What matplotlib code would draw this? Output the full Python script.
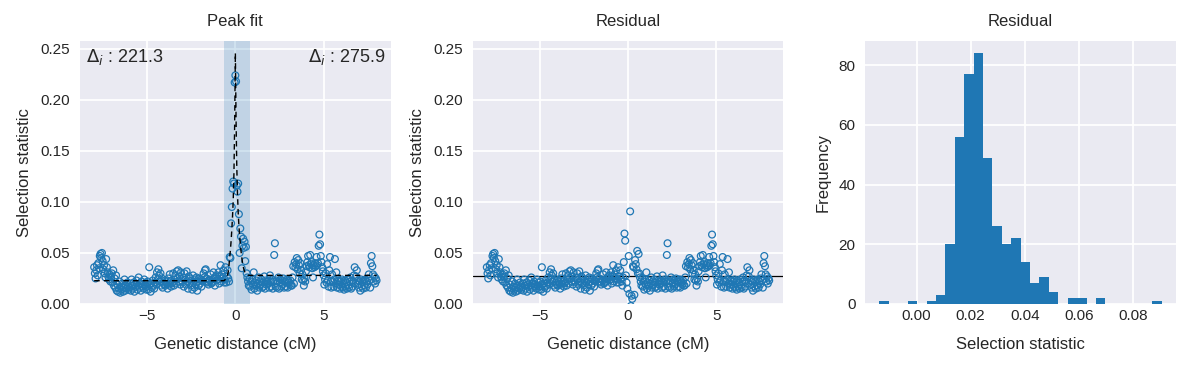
import numpy as np
import matplotlib.pyplot as plt

# genetic position of each window (cM), windows are 0.04 cM apart
pos_cm = np.linspace(-8, 8, 401)

# selection statistic, left flank (-8.00 .. -0.64 cM)
stat_left = [
    0.036, 0.030, 0.025, 0.033, 0.038, 0.028, 0.040, 0.035, 0.047, 0.049, 0.045, 0.050, 0.042,
    0.034, 0.038, 0.030, 0.026, 0.044, 0.036, 0.031, 0.027, 0.024, 0.029, 0.022, 0.026,
    0.030, 0.021, 0.033, 0.018, 0.025, 0.016, 0.028, 0.013, 0.019, 0.012, 0.015, 0.022, 0.011,
    0.017, 0.014, 0.020, 0.012, 0.016, 0.024, 0.013, 0.018, 0.015, 0.021, 0.017, 0.014,
    0.016, 0.020, 0.013, 0.024, 0.018, 0.015, 0.021, 0.012, 0.019, 0.017, 0.023, 0.014, 0.018,
    0.026, 0.016, 0.020, 0.013, 0.022, 0.017, 0.019, 0.015, 0.024, 0.018, 0.021, 0.014,
    0.017, 0.022, 0.014, 0.036, 0.019, 0.012, 0.020, 0.016, 0.023, 0.018, 0.015, 0.021, 0.026,
    0.019, 0.031, 0.024, 0.034, 0.028, 0.022, 0.030, 0.018, 0.025, 0.016, 0.021, 0.019,
    0.023, 0.018, 0.022, 0.020, 0.015, 0.025, 0.019, 0.029, 0.022, 0.017, 0.020, 0.021, 0.030,
    0.018, 0.024, 0.028, 0.020, 0.032, 0.025, 0.033, 0.022, 0.027, 0.019, 0.031, 0.023,
    0.021, 0.026, 0.017, 0.030, 0.024, 0.019, 0.032, 0.022, 0.015, 0.027, 0.020, 0.025, 0.018,
    0.023, 0.014, 0.028, 0.021, 0.016, 0.024, 0.019, 0.026, 0.013, 0.022, 0.018, 0.025,
    0.020, 0.024, 0.017, 0.023, 0.022, 0.030, 0.026, 0.033, 0.034, 0.025, 0.021, 0.022, 0.019,
    0.024, 0.023, 0.029, 0.020, 0.021, 0.022, 0.031, 0.025, 0.018, 0.027, 0.023, 0.028,
    0.024, 0.031, 0.020, 0.027, 0.038, 0.022, 0.029, 0.025, 0.033, 0.021,
]

# peak window (-0.60 .. 0.80 cM): statistic, fitted curve and residual
stat_peak = [
    0.024, 0.036, 0.021, 0.027, 0.033, 0.025, 0.022, 0.046, 0.045, 0.079, 0.095, 0.113,
    0.120, 0.118, 0.217, 0.224, 0.218, 0.116, 0.110, 0.118, 0.088, 0.050, 0.074, 0.066,
    0.035, 0.057, 0.064, 0.055, 0.061, 0.042, 0.056, 0.030, 0.026, 0.022, 0.018, 0.025,
]
fit_peak = [
    0.0235, 0.0240, 0.0248, 0.0260, 0.0280, 0.0320, 0.0380, 0.0450, 0.0530, 0.0620, 0.0730, 0.0860,
    0.1020, 0.1280, 0.1750, 0.2460, 0.1800, 0.1350, 0.1080, 0.0900, 0.0770, 0.0670, 0.0590, 0.0520,
    0.0460, 0.0410, 0.0370, 0.0340, 0.0320, 0.0305, 0.0295, 0.0288, 0.0284, 0.0282, 0.0281, 0.0280,
]
resid_peak = [
    0.024, 0.036, 0.021, 0.027, 0.033, 0.025, 0.022, 0.018, 0.026, 0.041, 0.069, 0.062,
    0.028, 0.021, 0.015, -0.0137, 0.047, 0.010, 0.0907, -0.002, 0.008, 0.005, 0.037, 0.036,
    0.009, 0.043, 0.039, 0.034, 0.052, 0.030, 0.049, 0.030, 0.026, 0.022, 0.018, 0.025,
]

# selection statistic, right flank (0.84 .. 8.00 cM)
stat_right = [
    0.017, 0.022, 0.014, 0.024, 0.019, 0.031, 0.015, 0.021, 0.018, 0.023, 0.013, 0.020, 0.026,
    0.016, 0.022, 0.019, 0.024, 0.016, 0.021, 0.017, 0.027, 0.015, 0.023, 0.019, 0.022,
    0.020, 0.023, 0.016, 0.028, 0.022, 0.017, 0.024, 0.015, 0.022, 0.048, 0.0595, 0.017, 0.023,
    0.016, 0.022, 0.026, 0.015, 0.021, 0.024, 0.017, 0.023, 0.019, 0.025, 0.016, 0.022,
    0.022, 0.017, 0.024, 0.016, 0.023, 0.021, 0.019, 0.023, 0.018, 0.018, 0.026, 0.037, 0.020,
    0.041, 0.036, 0.039, 0.045, 0.034, 0.043, 0.038, 0.030, 0.040, 0.033, 0.024, 0.029,
    0.023, 0.018, 0.025, 0.022, 0.032, 0.037, 0.041, 0.047, 0.038, 0.036, 0.048, 0.039, 0.041,
    0.035, 0.026, 0.038, 0.036, 0.040, 0.037, 0.046, 0.038, 0.040, 0.057, 0.068, 0.0585,
    0.047, 0.041, 0.036, 0.032, 0.028, 0.019, 0.024, 0.030, 0.021, 0.039, 0.023, 0.017, 0.033,
    0.046, 0.022, 0.016, 0.029, 0.022, 0.017, 0.024, 0.044, 0.020, 0.031, 0.016, 0.023,
    0.019, 0.023, 0.015, 0.022, 0.017, 0.024, 0.016, 0.022, 0.014, 0.023, 0.017, 0.021, 0.015,
    0.024, 0.018, 0.016, 0.022, 0.026, 0.015, 0.023, 0.017, 0.022, 0.028, 0.036, 0.020,
    0.027, 0.033, 0.019, 0.023, 0.016, 0.022, 0.013, 0.024, 0.017, 0.022, 0.015, 0.023, 0.018,
    0.024, 0.016, 0.022, 0.019, 0.025, 0.029, 0.023, 0.016, 0.040, 0.047, 0.037, 0.029,
    0.022, 0.027, 0.020, 0.025, 0.023,
]

fit_base_left = 0.0228
fit_base_right = 0.028
resid_base = 0.027
delta_left = 221.3
delta_right = 275.9
peak_span = (-0.62, 0.82)

stat = np.array(stat_left + stat_peak + stat_right)
in_peak = np.zeros(len(pos_cm), dtype=bool)
in_peak[len(stat_left):len(stat_left) + len(stat_peak)] = True

fit = np.where(pos_cm <= 0, fit_base_left, fit_base_right)
fit[in_peak] = fit_peak
resid = stat.copy()
resid[in_peak] = resid_peak

plt.style.use('seaborn-v0_8-darkgrid')
plt.rcParams['font.family'] = ['Liberation Sans', 'DejaVu Sans']
plt.rcParams['xtick.labelsize'] = 11
plt.rcParams['ytick.labelsize'] = 11
plt.rcParams['axes.labelsize'] = 12
plt.rcParams['axes.titlesize'] = 12
plt.rcParams['axes.titlepad'] = 10.5
plt.rcParams['grid.linewidth'] = 1.25
plt.rcParams['ytick.major.pad'] = 7
plt.rcParams['axes.labelpad'] = 6

blue = '#1f77b4'
fig, axes = plt.subplots(1, 3, figsize=(11.91, 3.68), dpi=100)
fig.subplots_adjust(left=0.0672, right=0.9874, bottom=0.174, top=0.889, wspace=0.264)

# peak fit
ax = axes[0]
ax.axvspan(*peak_span, color=blue, alpha=0.2, lw=0)
ax.scatter(pos_cm, stat, s=24, facecolors='none', edgecolors=blue, linewidths=0.9)
ax.plot(pos_cm, fit, color='k', ls=(0, (4, 3)), lw=1)
ax.text(0.02, 0.975, r'$\Delta_i$ : %.1f' % delta_left, transform=ax.transAxes,
        ha='left', va='top', fontsize=13)
ax.text(0.985, 0.975, r'$\Delta_i$ : %.1f' % delta_right, transform=ax.transAxes,
        ha='right', va='top', fontsize=13)
ax.set_ylim(0, 0.2578)
ax.set_title('Peak fit')
ax.set_xlabel('Genetic distance (cM)', labelpad=10)
ax.set_ylabel('Selection statistic')

# residual vs position
ax = axes[1]
ax.axhline(resid_base, color='k', lw=0.9, zorder=1)
ax.scatter(pos_cm, resid, s=24, facecolors='none', edgecolors=blue, linewidths=0.9, zorder=2)
ax.set_ylim(0, 0.2578)
ax.set_title('Residual')
ax.set_xlabel('Genetic distance (cM)', labelpad=10)
ax.set_ylabel('Selection statistic')

# residual histogram
ax = axes[2]
ax.hist(resid, bins=30, color=blue)
ax.set_title('Residual')
ax.set_xlabel('Selection statistic', labelpad=10)
ax.set_ylabel('Frequency')

fig.savefig('out.png', dpi=100)
